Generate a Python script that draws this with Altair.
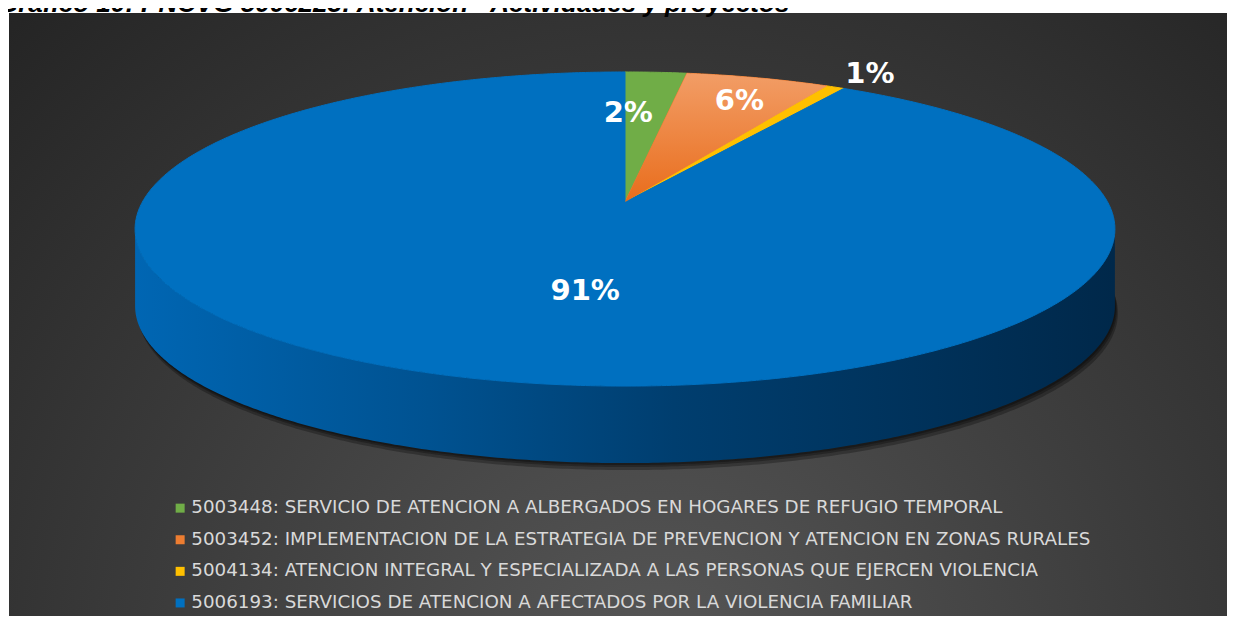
import altair as alt
import numpy as np
import pandas as pd

# ---------------- data ----------------
TITLE = "Gráfico 10:  PNCVG 5006223: Atención - Actividades y proyectos"
CATEGORIES = [
    "5003448: SERVICIO DE ATENCION A ALBERGADOS EN HOGARES DE REFUGIO TEMPORAL",
    "5003452: IMPLEMENTACION DE LA ESTRATEGIA DE PREVENCION Y ATENCION EN ZONAS RURALES",
    "5004134: ATENCION INTEGRAL Y ESPECIALIZADA A LAS PERSONAS QUE EJERCEN VIOLENCIA",
    "5006193: SERVICIOS DE ATENCION A AFECTADOS POR LA VIOLENCIA FAMILIAR",
]
SHARES = [2.4, 5.6, 0.7, 91.3]  # percent of total

# ---------------- style / layout ----------------
COLORS = ["#70ad47", "#ed7d31", "#ffc000", "#0070c0"]
W, H = 1219, 608          # drawing area (svg px)
CX, CY = 617.0, 194.0     # pie centre (apex of the slices)
A, B, E = 482.6, 152.4, 0.172   # horizontal radius, vertical radius, perspective
DEPTH = 77.0              # pie thickness
LABEL_FRAC = [0.65, 0.79, 1.13, 0.55]
LABEL_DX = [-18, 6, 11, 39]


def proj(theta_deg, f=1.0, dy=0.0):
    t = np.radians(theta_deg)
    X = f * np.sin(t)
    D = f * np.cos(t)
    k = 1.0 / (1.0 + E * D)
    return CX + A * X * k, CY - B * D * k + dy


cum = np.concatenate([[0.0], np.cumsum(SHARES)]) / sum(SHARES) * 360.0

# top-face slices
rows = []
for i, cat in enumerate(CATEGORIES):
    a0, a1 = cum[i], cum[i + 1]
    th = np.linspace(a0, a1, max(3, int((a1 - a0) / 0.5) + 1))
    xs, ys = proj(th)
    pts = [(CX, CY)] + list(zip(xs, ys)) + [(CX, CY)]
    for j, (x, y) in enumerate(pts):
        rows.append({"cat": cat, "ord": j, "x": x, "y": y})
slices = pd.DataFrame(rows)

# visible side wall (front half between silhouettes)
tR = np.degrees(np.arccos(-E))
tL = 360.0 - tR
side_rows = []
for i, cat in enumerate(CATEGORIES):
    lo, hi = max(cum[i], tR), min(cum[i + 1], tL)
    if hi <= lo:
        continue
    th = np.linspace(lo, hi, int((hi - lo) / 0.5) + 2)
    tx, ty = proj(th)
    bx, by = proj(th[::-1], dy=DEPTH)
    pts = list(zip(tx, ty)) + list(zip(bx, by)) + [(tx[0], ty[0])]
    for j, (x, y) in enumerate(pts):
        side_rows.append({"cat": cat, "ord": j, "x": x, "y": y})
side = pd.DataFrame(side_rows)

# soft shadow under the pie
sh_rows = []
th = np.linspace(0, 360, 721)
for k, (ox, oy) in enumerate([(1, 2), (2, 4), (3, 7)]):
    bx, by = proj(th, dy=DEPTH)
    for j, (x, y) in enumerate(zip(bx + ox, by + oy)):
        sh_rows.append({"layer": k, "ord": j, "x": x, "y": y})
shadow = pd.DataFrame(sh_rows)

# labels
lab = []
for i, v in enumerate(SHARES):
    mid = (cum[i] + cum[i + 1]) / 2
    x, y = proj(mid, f=LABEL_FRAC[i])
    lab.append({"x": float(x) + LABEL_DX[i], "y": float(y), "text": f"{round(v)}%"})
labels = pd.DataFrame(lab)

xs = alt.Scale(domain=[0, W], nice=False, zero=False)
ys = alt.Scale(domain=[0, H], nice=False, zero=False, reverse=True)
X = alt.X("x:Q", scale=xs, axis=None)
Y = alt.Y("y:Q", scale=ys, axis=None)

bg = alt.Chart(pd.DataFrame({"a": [0]})).mark_rect(
    fill=alt.RadialGradient(
        gradient="radial",
        stops=[alt.GradientStop(offset=0, color="#575757"),
               alt.GradientStop(offset=1, color="#242424")],
        x1=0.52, y1=0.78, r1=0, x2=0.52, y2=0.78, r2=0.75),
).encode(x=alt.value(1), x2=alt.value(W + 30), y=alt.value(5), y2=alt.value(H + 30))

shadow_layer = alt.Chart(shadow).mark_line(
    fill="#000000", strokeOpacity=0, fillOpacity=0.28
).encode(x=X, y=Y, order="ord:Q", detail="layer:N")

side_layer = alt.Chart(side).mark_line(
    fill=alt.LinearGradient(
        gradient="linear",
        stops=[alt.GradientStop(offset=0, color="#0066b3"),
               alt.GradientStop(offset=0.3, color="#005291"),
               alt.GradientStop(offset=0.55, color="#003e6f"),
               alt.GradientStop(offset=1, color="#00284a")],
        x1=0, x2=1, y1=0, y2=0),
    strokeOpacity=0,
).encode(x=X, y=Y, order="ord:Q", detail="cat:N")

fill_scale = alt.Scale(domain=CATEGORIES, range=COLORS)
slice_layer = alt.Chart(slices).mark_line(strokeWidth=1).encode(
    x=X, y=Y, order="ord:Q",
    fill=alt.Fill("cat:N", scale=fill_scale, sort=CATEGORIES,
                  legend=alt.Legend(
                      orient="none", legendX=163, legendY=491, title=None,
                      symbolType="square", symbolSize=81, symbolStrokeWidth=0,
                      labelFont="DejaVu Sans", labelFontSize=18.3,
                      labelColor="#d9d9d9", labelLimit=1500, rowPadding=12.6,
                      labelOffset=2)),
    stroke=alt.Stroke("cat:N", scale=fill_scale, legend=None),
)

orange_layer = alt.Chart(slices).transform_filter(
    alt.datum.cat == CATEGORIES[1]
).mark_line(
    fill=alt.LinearGradient(
        gradient="linear",
        stops=[alt.GradientStop(offset=0, color="#f29d66"),
               alt.GradientStop(offset=1, color="#e96d1c")],
        x1=0, x2=0, y1=0, y2=1),
    strokeOpacity=0,
).encode(x=X, y=Y, order="ord:Q")

label_layer = alt.Chart(labels).mark_text(
    font="DejaVu Sans", fontSize=29, fontWeight="bold", color="white",
    align="center", baseline="middle"
).encode(x=X, y=Y, text="text:N")

title_layer = alt.Chart(pd.DataFrame({"t": [TITLE]})).mark_text(
    font="Liberation Sans", fontSize=26, fontWeight="bold", fontStyle="italic",
    color="black", align="left", baseline="alphabetic"
).encode(x=alt.value(-10), y=alt.value(4), text="t:N")

chart = alt.layer(
    bg, shadow_layer, side_layer, slice_layer, orange_layer, label_layer, title_layer
).properties(
    width=W, height=H, autosize=alt.AutoSizeParams(type="none"), padding=0,
    background="white"
).configure_view(strokeWidth=0)

chart.save("out.html", embed_options={"renderer": "svg", "actions": False})
